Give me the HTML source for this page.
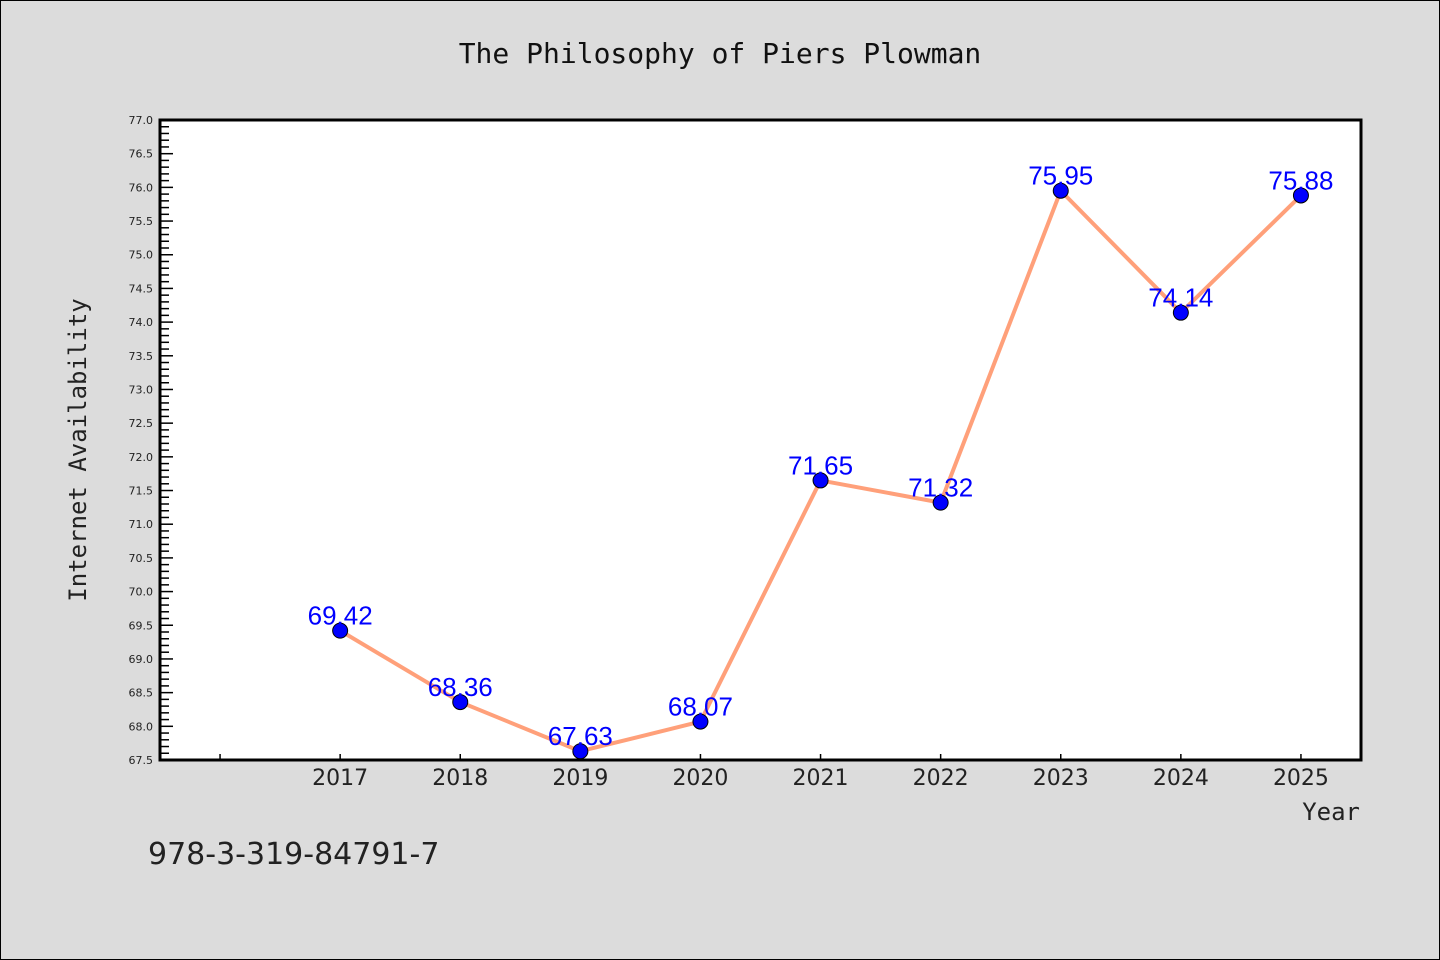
<!DOCTYPE html>
<html><head><meta charset="utf-8"><style>
html,body{margin:0;padding:0;background:#dcdcdc;}
svg{display:block;font-family:"DejaVu Sans","Liberation Sans",sans-serif;}
</style></head><body>
<svg id="chart" width="1440" height="960">
<rect x="0.5" y="0.5" width="1439" height="959" fill="#dcdcdc" stroke="#000"/>
<text x="720" y="63" text-anchor="middle" font-size="28" fill="#111" font-family="DejaVu Sans Mono,Liberation Mono,monospace">The Philosophy of Piers Plowman</text>
<rect x="160" y="120" width="1201" height="640" fill="#fff"/>
<g id="axes"></g>
<g id="series"></g>
<rect x="160" y="120" width="1201" height="640" fill="none" stroke="#000" stroke-width="3"/>
<text x="86" y="450" text-anchor="middle" font-size="24" fill="#222" transform="rotate(-90 86 450)" font-family="DejaVu Sans Mono,Liberation Mono,monospace">Internet Availability</text>
<text x="1360" y="820" text-anchor="end" font-size="24" fill="#222" font-family="DejaVu Sans Mono,Liberation Mono,monospace">Year</text>
<text x="148" y="864" font-size="30" fill="#222">978-3-319-84791-7</text>
</svg>
<script>
const years = [2017,2018,2019,2020,2021,2022,2023,2024,2025];
const values = [69.42,68.36,67.63,68.07,71.65,71.32,75.95,74.14,75.88];
const valueLabels = ["69.42","68.36","67.63","68.07","71.65","71.32","75.95","74.14","75.88"];
const yMin = 67.5, yMax = 77.0;
const xMin = 2015.5, xMax = 2025.5;
const L=160,R=1361,T=120,B=760;
function xs(v){return L+(v-xMin)/(xMax-xMin)*(R-L);}
function ys(v){return B-(v-yMin)/(yMax-yMin)*(B-T);}
const NS="http://www.w3.org/2000/svg";
const axes=document.getElementById('axes'), series=document.getElementById('series');
function mk(tag,attrs,parent){const e=document.createElementNS(NS,tag);for(const k in attrs)e.setAttribute(k,attrs[k]);parent.appendChild(e);return e;}
for(let i=0;i<=95;i++){
  const v=yMin+i*0.1, y=ys(v), major=i%5===0;
  const t=mk('line',{x1:L,x2:L+(major?13:9),y1:y,y2:y,stroke:'#000','stroke-width':1.5},axes);
  
  
  if(major){
    const lb=mk('text',{x:L-7,y:y+4,'text-anchor':'end','font-size':11,fill:'#222'},axes);
    lb.textContent=v.toFixed(1);
    
    
  }
}
for(let yr=2016;yr<=2025;yr++){
  const x=xs(yr);
  const t=mk('line',{x1:x,x2:x,y1:B,y2:B-6,stroke:'#000','stroke-width':1.5},axes);
  
  
}
years.forEach(yr=>{
  const lb=mk('text',{x:xs(yr),y:B+25,'text-anchor':'middle','font-size':22,fill:'#222'},axes);
  lb.textContent=yr;
  
  
});
const pts=years.map((yr,i)=>xs(yr)+','+ys(values[i])).join(' ');
const line=mk('polyline',{points:pts,fill:'none',stroke:'#ffa07a','stroke-width':4,'stroke-linejoin':'round'},series);


years.forEach((yr,i)=>{
  const c=mk('circle',{cx:xs(yr),cy:ys(values[i]),r:7.5,fill:'#0000ff',stroke:'#000','stroke-width':1},series);
  
  
  const lb=mk('text',{x:xs(yr),y:ys(values[i])-6,'text-anchor':'middle','font-size':26,fill:'#0000ff','font-family':'Liberation Sans,sans-serif'},series);
  lb.textContent=valueLabels[i];
  
  
});
</script>
</body></html>
